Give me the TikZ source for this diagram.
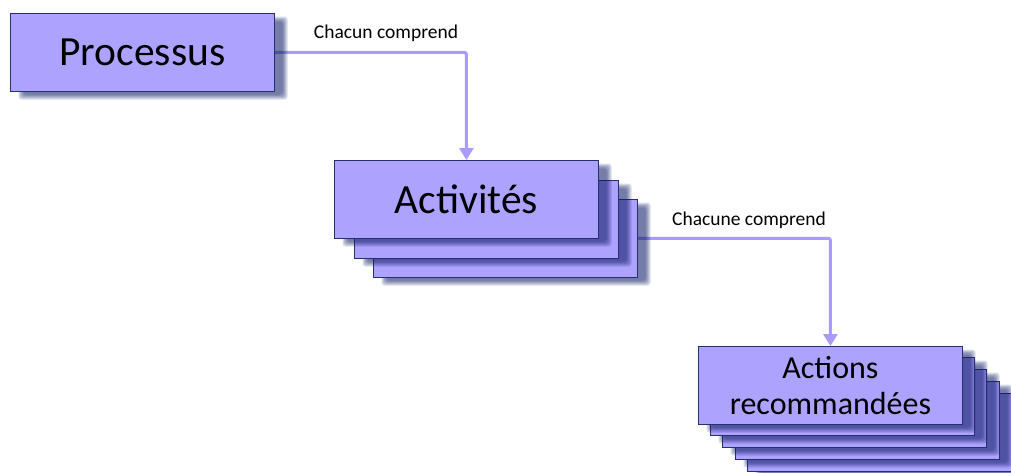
\documentclass[tikz,border=0pt]{standalone}
\usepackage{fontspec}
\setmainfont{Carlito}
\usetikzlibrary{arrows.meta,backgrounds}
\definecolor{cardfill}{HTML}{AEA2FF}
\definecolor{cardline}{HTML}{27306E}
\definecolor{linkcol}{HTML}{A99BFF}
\definecolor{shadowcol}{HTML}{0F1E67}
\tikzset{
  card/.style={draw=cardline, line width=0.8pt, fill=cardfill,
    minimum width=264pt, minimum height=78pt, inner sep=0pt,
    anchor=north west, align=center},
  softshadow/.style={fill=shadowcol, fill opacity=0.16, draw=none,
    rounded corners=3pt},
  bigtext/.style={font=\fontsize{41.5}{44}\selectfont},
  midtext/.style={font=\fontsize{32}{36}\selectfont},
  link/.style={draw=linkcol, line width=3pt, rounded corners=2pt,
    -{Triangle[width=14pt,length=12pt]}},
  tag/.style={font=\fontsize{19.5}{21}\selectfont, anchor=base}
}
% a card with a soft drop shadow: [options]{name}{left}{top}{text}
\newcommand\cardat[5][]{%
  \foreach \d in {-2.5,-1.25,...,2.5}
    \fill[softshadow] ({#3+11-\d},{#4+6-\d}) rectangle ({#3+275+\d},{#4+84+\d});
  \node[card,#1] (#2) at (#3,#4) {#5};
}
\begin{document}
\begin{tikzpicture}[x=1pt,y=-1pt]
\useasboundingbox (0,0) rectangle (1011,472);

% top-level process
\cardat[bigtext]{proc}{10}{13}{Processus}

% stack of activities, back to front
\cardat{act3}{373}{199}{}
\cardat{act2}{354}{180}{}
\cardat[bigtext]{act1}{334}{160}{Activités}

% stack of recommended actions, back to front
\cardat{acn5}{747}{393}{}
\cardat{acn4}{735}{381}{}
\cardat{acn3}{722}{369}{}
\cardat{acn2}{710}{357}{}
\cardat[midtext]{acn1}{698}{346}{Actions\\recommandées}

% connectors run underneath the cards and their shadows
\begin{scope}[on background layer]
  \draw[link] (proc.east) -| (act1.north);
  \draw[link] (act3.east) -| (acn1.north);
\end{scope}

\node[tag] (t1) at (386,38) {Chacun comprend};
\node[tag] (t2) at (749,225) {Chacune comprend};
\end{tikzpicture}
\end{document}
